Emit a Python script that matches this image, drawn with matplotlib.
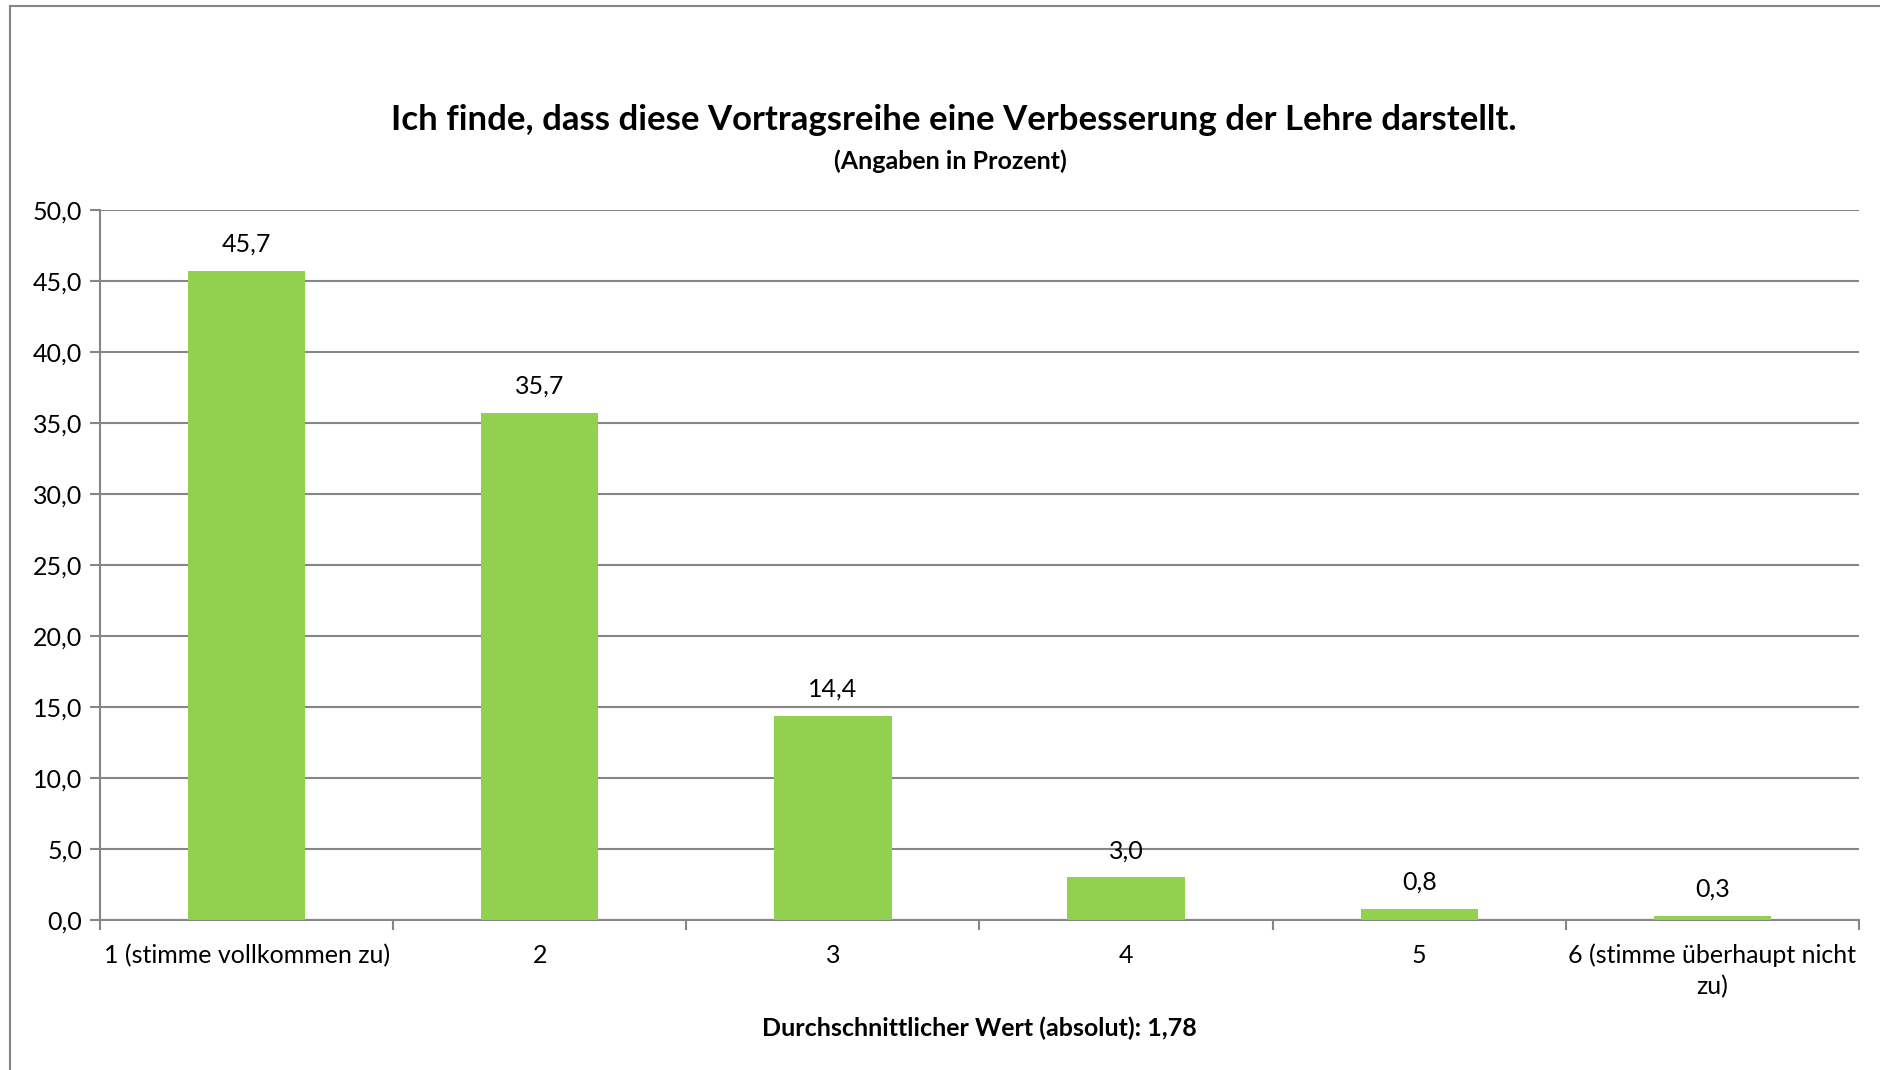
import matplotlib
matplotlib.use("Agg")
import matplotlib.pyplot as plt
from matplotlib.lines import Line2D

categories = ["1 (stimme vollkommen zu)", "2", "3", "4", "5",
              "6 (stimme überhaupt nicht\nzu)"]
values = [45.7, 35.7, 14.4, 3.0, 0.8, 0.3]
y_ticks = [0, 5, 10, 15, 20, 25, 30, 35, 40, 45, 50]

title = "Ich finde, dass diese Vortragsreihe eine Verbesserung der Lehre darstellt."
subtitle = "(Angaben in Prozent)"
footer = "Durchschnittlicher Wert (absolut): 1,78"

plt.rcParams["font.family"] = ["Lato", "DejaVu Sans"]
W, H = 1881, 1070
fig = plt.figure(figsize=(W / 100, H / 100), dpi=100)

# axes box in pixel coords: x 100..1859, y 210..920 (from top)
ax = fig.add_axes([100 / W, 1 - 920 / H, 1759 / W, 710 / H])

grid_col = "#868686"
x = list(range(len(categories)))
ax.bar(x, values, width=0.4, color="#92D050", zorder=3)
for xi, v in zip(x, values):
    ax.annotate(f"{v:.1f}".replace(".", ","), (xi, v), xytext=(0, 11),
                textcoords="offset points", ha="center", va="bottom",
                fontsize=18, color="black")

ax.set_xlim(-0.5, len(categories) - 0.5)
ax.set_ylim(0, 50)
ax.set_yticks(y_ticks)
ax.set_yticklabels([f"{t:.1f}".replace(".", ",") for t in y_ticks], fontsize=18)
ax.yaxis.grid(True, color=grid_col, linewidth=1.5, zorder=0)
ax.tick_params(axis="y", length=7, width=1.5, color=grid_col, pad=6)

ax.set_xticks(x)
ax.set_xticklabels(categories, fontsize=18, linespacing=1.4)
ax.set_xticks([i - 0.5 for i in range(len(categories) + 1)], minor=True)
ax.tick_params(axis="x", which="major", length=0, pad=17)
ax.tick_params(axis="x", which="minor", length=7, width=1.5, color=grid_col)

for s in ["top", "right"]:
    ax.spines[s].set_visible(False)
for s in ["left", "bottom"]:
    ax.spines[s].set_color(grid_col)
    ax.spines[s].set_linewidth(1.5)

fig.text(954 / W, 1 - 120 / H, title, ha="center", va="center",
         fontsize=25, fontweight="bold")
fig.text(950 / W, 1 - 161 / H, subtitle, ha="center", va="center",
         fontsize=18, fontweight="bold")
fig.text(979 / W, 1 - 1028 / H, footer, ha="center", va="center",
         fontsize=18, fontweight="bold")

# outer chart frame (left and top edges visible)
fig.add_artist(Line2D([10 / W, 10 / W], [0, 1 - 6 / H], transform=fig.transFigure,
                      color=grid_col, linewidth=1.5))
fig.add_artist(Line2D([10 / W, 1], [1 - 6 / H, 1 - 6 / H], transform=fig.transFigure,
                      color=grid_col, linewidth=1.5))

fig.savefig("out.png", dpi=100)
